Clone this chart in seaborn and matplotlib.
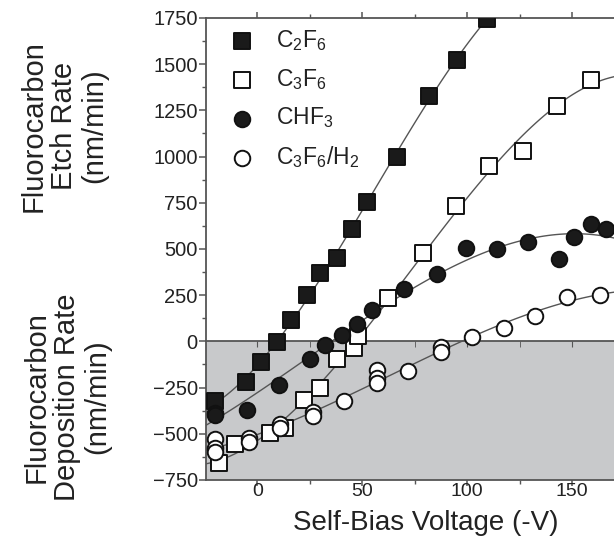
import seaborn as sns
import matplotlib.pyplot as plt
import numpy as np

# values (x: self-bias voltage, y: rate in nm/min)
c2f6_x = [-20, -5.2, 1.9, 9.4, 16.2, 23.7, 30.0, 37.9, 45.1, 52.2, 66.5, 81.6, 95.1, 109.4]
c2f6_y = [-320, -220, -110, -5, 115, 250, 370, 450, 610, 755, 1000, 1330, 1520, 1745]

c3f6_x = [-18.4, -10.5, 6.2, 13.3, 22.0, 30.0, 37.9, 45.9, 48.2, 62.5, 79.1, 94.6,
          110.5, 126.5, 142.7, 158.9]
c3f6_y = [-660, -555, -495, -470, -315, -250, -95, -36, 30, 235, 480, 730,
          950, 1030, 1276, 1413]

chf3_x = [-20, -20, -4.9, 10.2, 25.2, 32.4, 40.3, 47.5, 54.6, 69.7, 85.5, 99.5,
          114.1, 129.2, 144.0, 151.0, 159.0, 166.2]
chf3_y = [-385, -400, -370, -238, -97, -17, 33, 96, 168, 286, 365, 505,
          500, 540, 445, 565, 635, 610]

c3f6h2_x = [-20, -20, -20, -4.1, -4.1, 11, 11, 26.5, 26.5, 41.4, 57, 57, 57, 71.6,
            87.5, 87.5, 102.5, 117.8, 132.4, 147.5, 163.3]
c3f6h2_y = [-530, -575, -600, -525, -545, -445, -466, -380, -405, -321, -155, -200, -225, -160,
            -30, -58, 24, 73, 138, 240, 253]

labels = [r"C$_2$F$_6$", r"C$_3$F$_6$", r"CHF$_3$", r"C$_3$F$_6$/H$_2$"]

sns.set_style("ticks")
plt.rcParams["font.family"] = ["Liberation Sans", "DejaVu Sans"]
plt.rcParams["mathtext.default"] = "regular"

fig = plt.figure(figsize=(6.14, 5.36), dpi=100)
ax = fig.add_axes([0.3355, 0.1045, 0.6645, 0.862])
ax.set_xlim(-24.5, 170)
ax.set_ylim(-750, 1750)

# shaded deposition region
ax.axhspan(-750, 0, color="#c8c9cb", zorder=0, lw=0)

line_col = "#555555"
series = [
    (c2f6_x, c2f6_y, "s", "#1a1a1a", labels[0]),
    (c3f6_x, c3f6_y, "s", "white", labels[1]),
    (chf3_x, chf3_y, "o", "#1a1a1a", labels[2]),
    (c3f6h2_x, c3f6h2_y, "o", "white", labels[3]),
]

# fitted curves
for xs, ys, m, fc, lab in series:
    sns.regplot(x=np.array(xs), y=np.array(ys), order=3, ci=None, scatter=False,
                truncate=False, ax=ax, line_kws=dict(color=line_col, lw=1.0, zorder=2))
ax.set_xlim(-24.5, 170)

for xs, ys, m, fc, lab in series:
    sns.scatterplot(x=xs, y=ys, marker=m, s=125, color=fc, edgecolor="#111111",
                    linewidth=1.4, ax=ax, label=lab, zorder=3)

leg = ax.legend(loc="upper left", bbox_to_anchor=(0.0, 1.005), frameon=False, fontsize=16.5,
                handletextpad=0.5, labelspacing=0.6, borderaxespad=0.15)
for t in leg.get_texts():
    t.set_color("#222222")

# axes styling
for side in ["left", "bottom", "top"]:
    ax.spines[side].set_color("#555555")
    ax.spines[side].set_linewidth(1.3)
ax.spines["right"].set_visible(False)
ax.set_yticks(np.arange(-750, 1751, 250))
ax.set_yticks(np.arange(-750, 1751, 125), minor=True)
ax.set_xticks([0, 50, 100, 150])
ax.set_xticks(np.arange(-0, 171, 25), minor=True)
ax.tick_params(axis="both", which="major", labelsize=14.5, direction="out", length=5,
               width=1.1, color="#555555", pad=1, labelcolor="#222222")
ax.tick_params(axis="x", which="major", length=4, pad=-1.5, labelsize=14)
ax.tick_params(axis="both", which="minor", direction="out", length=3, width=1.0,
               color="#555555")
ax.tick_params(axis="x", which="both", top=True, labeltop=False)

# zero line acting as a second axis
zero_ax = ax.secondary_xaxis(750 / 2500)
zero_ax.spines["bottom"].set_color("#555555")
zero_ax.spines["bottom"].set_linewidth(1.3)
zero_ax.set_xticks([0, 50, 100, 150])
zero_ax.set_xticks(np.arange(0, 171, 25), minor=True)
zero_ax.tick_params(which="both", labelbottom=False, direction="out", length=4,
                    color="#555555")

fig.text(426 / 614, 0.5 / 536, "Self-Bias Voltage (-V)", fontsize=20,
         ha="center", va="bottom", color="#222222")
fig.text(64 / 614, 1 - 126 / 536, "Fluorocarbon\nEtch Rate\n(nm/min)", fontsize=21,
         rotation=90, ha="center", va="center", multialignment="center",
         linespacing=1.1, color="#222222")
fig.text(67 / 614, 1 - 397 / 536, "Fluorocarbon\nDeposition Rate\n(nm/min)", fontsize=21,
         rotation=90, ha="center", va="center", multialignment="center",
         linespacing=1.1, color="#222222")

plt.savefig("out.png", dpi=100)
